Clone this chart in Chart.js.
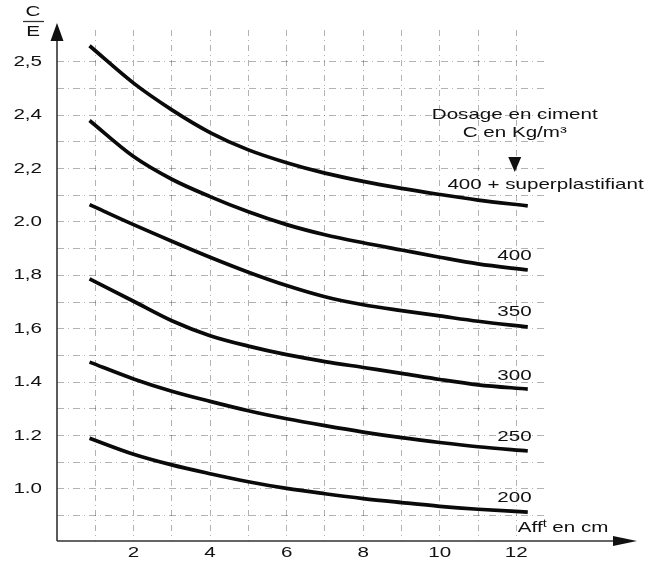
<!DOCTYPE html>
<html>
<head>
<meta charset="utf-8">
<script src="https://cdn.jsdelivr.net/npm/chart.js@4.4.1/dist/chart.umd.min.js"></script>
<style>
  html, body { margin: 0; padding: 0; background: #fff; }
  #wrap { width: 658px; height: 561px; }
</style>
</head>
<body>
<div id="wrap"><canvas id="abaque" width="658" height="561"></canvas></div>
<script>
// affaissement (cm) - shared x for every curve
var afft = [0.85, 2, 3, 4, 5, 6, 7, 8, 9, 10, 11, 12.3];

// C/E, one array per cement dosage
var c400sp = [2.66, 2.52, 2.42, 2.335, 2.27, 2.222, 2.183, 2.152, 2.126, 2.103, 2.082, 2.06];
var c400   = [2.38, 2.245, 2.16, 2.095, 2.038, 1.99, 1.952, 1.922, 1.895, 1.868, 1.843, 1.82];
var c350   = [2.065, 1.99, 1.928, 1.868, 1.812, 1.762, 1.72, 1.69, 1.668, 1.648, 1.628, 1.607];
var c300   = [1.787, 1.703, 1.63, 1.574, 1.535, 1.503, 1.477, 1.455, 1.433, 1.41, 1.39, 1.374];
var c250   = [1.475, 1.412, 1.366, 1.328, 1.293, 1.263, 1.237, 1.213, 1.192, 1.174, 1.158, 1.142];
var c200   = [1.19, 1.13, 1.09, 1.057, 1.027, 1.002, 0.982, 0.964, 0.949, 0.935, 0.924, 0.913];

var seriesNames = ["400 + superplastifiant", "400", "350", "300", "250", "200"];
var seriesData = [c400sp, c400, c350, c300, c250, c200];

// axes (note the scan labels its top line "2,5")
var xGridValues = [1, 2, 3, 4, 5, 6, 7, 8, 9, 10, 11, 12];
var xTickValues = [2, 4, 6, 8, 10, 12];
var xTickLabels = ["2", "4", "6", "8", "10", "12"];
var yGridValues = [0.9, 1.0, 1.1, 1.2, 1.3, 1.4, 1.5, 1.6, 1.7, 1.8, 1.9, 2.0, 2.1, 2.2, 2.3, 2.4, 2.5, 2.6];
var yTickValues = [1.0, 1.2, 1.4, 1.6, 1.8, 2.0, 2.2, 2.4, 2.6];
var yTickLabels = ["1.0", "1.2", "1.4", "1,6", "1,8", "2.0", "2,2", "2,4", "2,5"];

var FONT = '14.5px "Liberation Sans", Arial, sans-serif';
var HS = 1.42; // scan is stretched sideways
var INK = '#111';

function wideText(ctx, txt, x, y, align) {
	var w = ctx.measureText(txt).width * HS;
	var x0 = x;
	if (align == 'right') x0 = x - w;
	if (align == 'center') x0 = x - w / 2;
	ctx.save();
	ctx.translate(x0, y);
	ctx.scale(HS, 1);
	ctx.textAlign = 'left';
	ctx.fillText(txt, 0, 0);
	ctx.restore();
	return w;
}

var datasets = [];
for (var i = 0; i < seriesData.length; i++) {
	datasets.push({
		label: seriesNames[i],
		data: afft.map(function(x, j) { return {x: x, y: seriesData[i][j]}; }),
		borderColor: '#0a0a0a',
		borderWidth: 3.7,
		pointRadius: 0,
		fill: false,
		cubicInterpolationMode: 'monotone',
		clip: false
	});
}

var decor = {
	id: 'decor',
	afterDraw: function(chart) {
		var ctx = chart.ctx;
		var xs = chart.scales.x, ys = chart.scales.y;
		var ca = chart.chartArea;
		ctx.save();
		ctx.fillStyle = INK;
		ctx.strokeStyle = '#333';
		ctx.font = FONT;
		ctx.textBaseline = 'middle';

		// axes with arrows
		var ax = ca.left, ay = ca.bottom;
		ctx.lineWidth = 1.6;
		ctx.beginPath();
		ctx.moveTo(ax, ay);
		ctx.lineTo(ax, 38);
		ctx.moveTo(ax, ay);
		ctx.lineTo(618, ay);
		ctx.stroke();
		ctx.fillStyle = '#111';
		ctx.beginPath();
		ctx.moveTo(ax, 23);
		ctx.lineTo(ax - 6.5, 41);
		ctx.lineTo(ax + 6.5, 41);
		ctx.closePath();
		ctx.fill();
		ctx.beginPath();
		ctx.moveTo(637, ay);
		ctx.lineTo(613, ay - 5);
		ctx.lineTo(613, ay + 5);
		ctx.closePath();
		ctx.fill();

		ctx.fillStyle = INK;
		// tick labels
		for (var i = 0; i < yTickValues.length; i++) {
			wideText(ctx, yTickLabels[i], 42, ys.getPixelForValue(yTickValues[i]), 'right');
		}
		for (var k = 0; k < xTickValues.length; k++) {
			wideText(ctx, xTickLabels[k], xs.getPixelForValue(xTickValues[k]), 553, 'center');
		}

		// C/E
		wideText(ctx, 'C', 33, 12, 'center');
		ctx.lineWidth = 1.3;
		ctx.beginPath();
		ctx.moveTo(23, 21.5);
		ctx.lineTo(44, 21.5);
		ctx.stroke();
		wideText(ctx, 'E', 33, 32, 'center');

		// curve labels
		wideText(ctx, seriesNames[0], xs.getPixelForValue(10.2), ys.getPixelForValue(2.139), 'left');
		var lblY = [1.873, 1.663, 1.423, 1.195, 0.966];
		for (var n = 1; n < seriesNames.length; n++) {
			wideText(ctx, seriesNames[n], xs.getPixelForValue(12.4), ys.getPixelForValue(lblY[n - 1]), 'right');
		}

		// legend title + arrow
		var cx = xs.getPixelForValue(11.96);
		wideText(ctx, 'Dosage en ciment', cx, ys.getPixelForValue(2.40), 'center');
		wideText(ctx, 'C en Kg/m\u00b3', cx, ys.getPixelForValue(2.333), 'center');
		ctx.fillStyle = '#111';
		ctx.beginPath();
		ctx.moveTo(cx - 6.5, ys.getPixelForValue(2.243));
		ctx.lineTo(cx + 6.5, ys.getPixelForValue(2.243));
		ctx.lineTo(cx, ys.getPixelForValue(2.187));
		ctx.closePath();
		ctx.fill();

		// x axis title Aff^t en cm
		ctx.fillStyle = INK;
		var tx = xs.getPixelForValue(12.04), ty = ys.getPixelForValue(0.854);
		tx += wideText(ctx, 'Aff', tx, ty, 'left');
		ctx.font = '10px "Liberation Sans", Arial, sans-serif';
		tx += wideText(ctx, 't', tx, ty - 4, 'left');
		ctx.font = FONT;
		wideText(ctx, ' en cm', tx, ty, 'left');
		ctx.restore();
	}
};

var chart = new Chart(document.getElementById('abaque'), {
	type: 'line',
	data: { datasets: datasets },
	options: {
		responsive: false,
		animation: false,
		layout: { padding: { top: 30, right: 113, bottom: 0, left: 0 } },
		plugins: {
			legend: { display: false },
			tooltip: { enabled: false },
			title: { display: false }
		},
		scales: {
			x: {
				type: 'linear',
				min: 0,
				max: 12.75,
				afterBuildTicks: function(s) { s.ticks = xGridValues.map(function(v) { return {value: v}; }); },
				afterFit: function(s) { s.height = 20; },
				ticks: { display: false },
				grid: { color: 'rgba(0,0,0,0.3)', lineWidth: 1, drawTicks: false },
				border: { display: false, dash: [6, 4, 1, 4] }
			},
			y: {
				type: 'linear',
				min: 0.805,
				max: 2.719,
				afterBuildTicks: function(s) { s.ticks = yGridValues.map(function(v) { return {value: v}; }); },
				afterFit: function(s) { s.width = 57; },
				ticks: { display: false },
				grid: { color: 'rgba(0,0,0,0.3)', lineWidth: 1, drawTicks: false },
				border: { display: false, dash: [7, 4, 1, 4] }
			}
		}
	},
	plugins: [decor]
});
</script>
</body>
</html>
